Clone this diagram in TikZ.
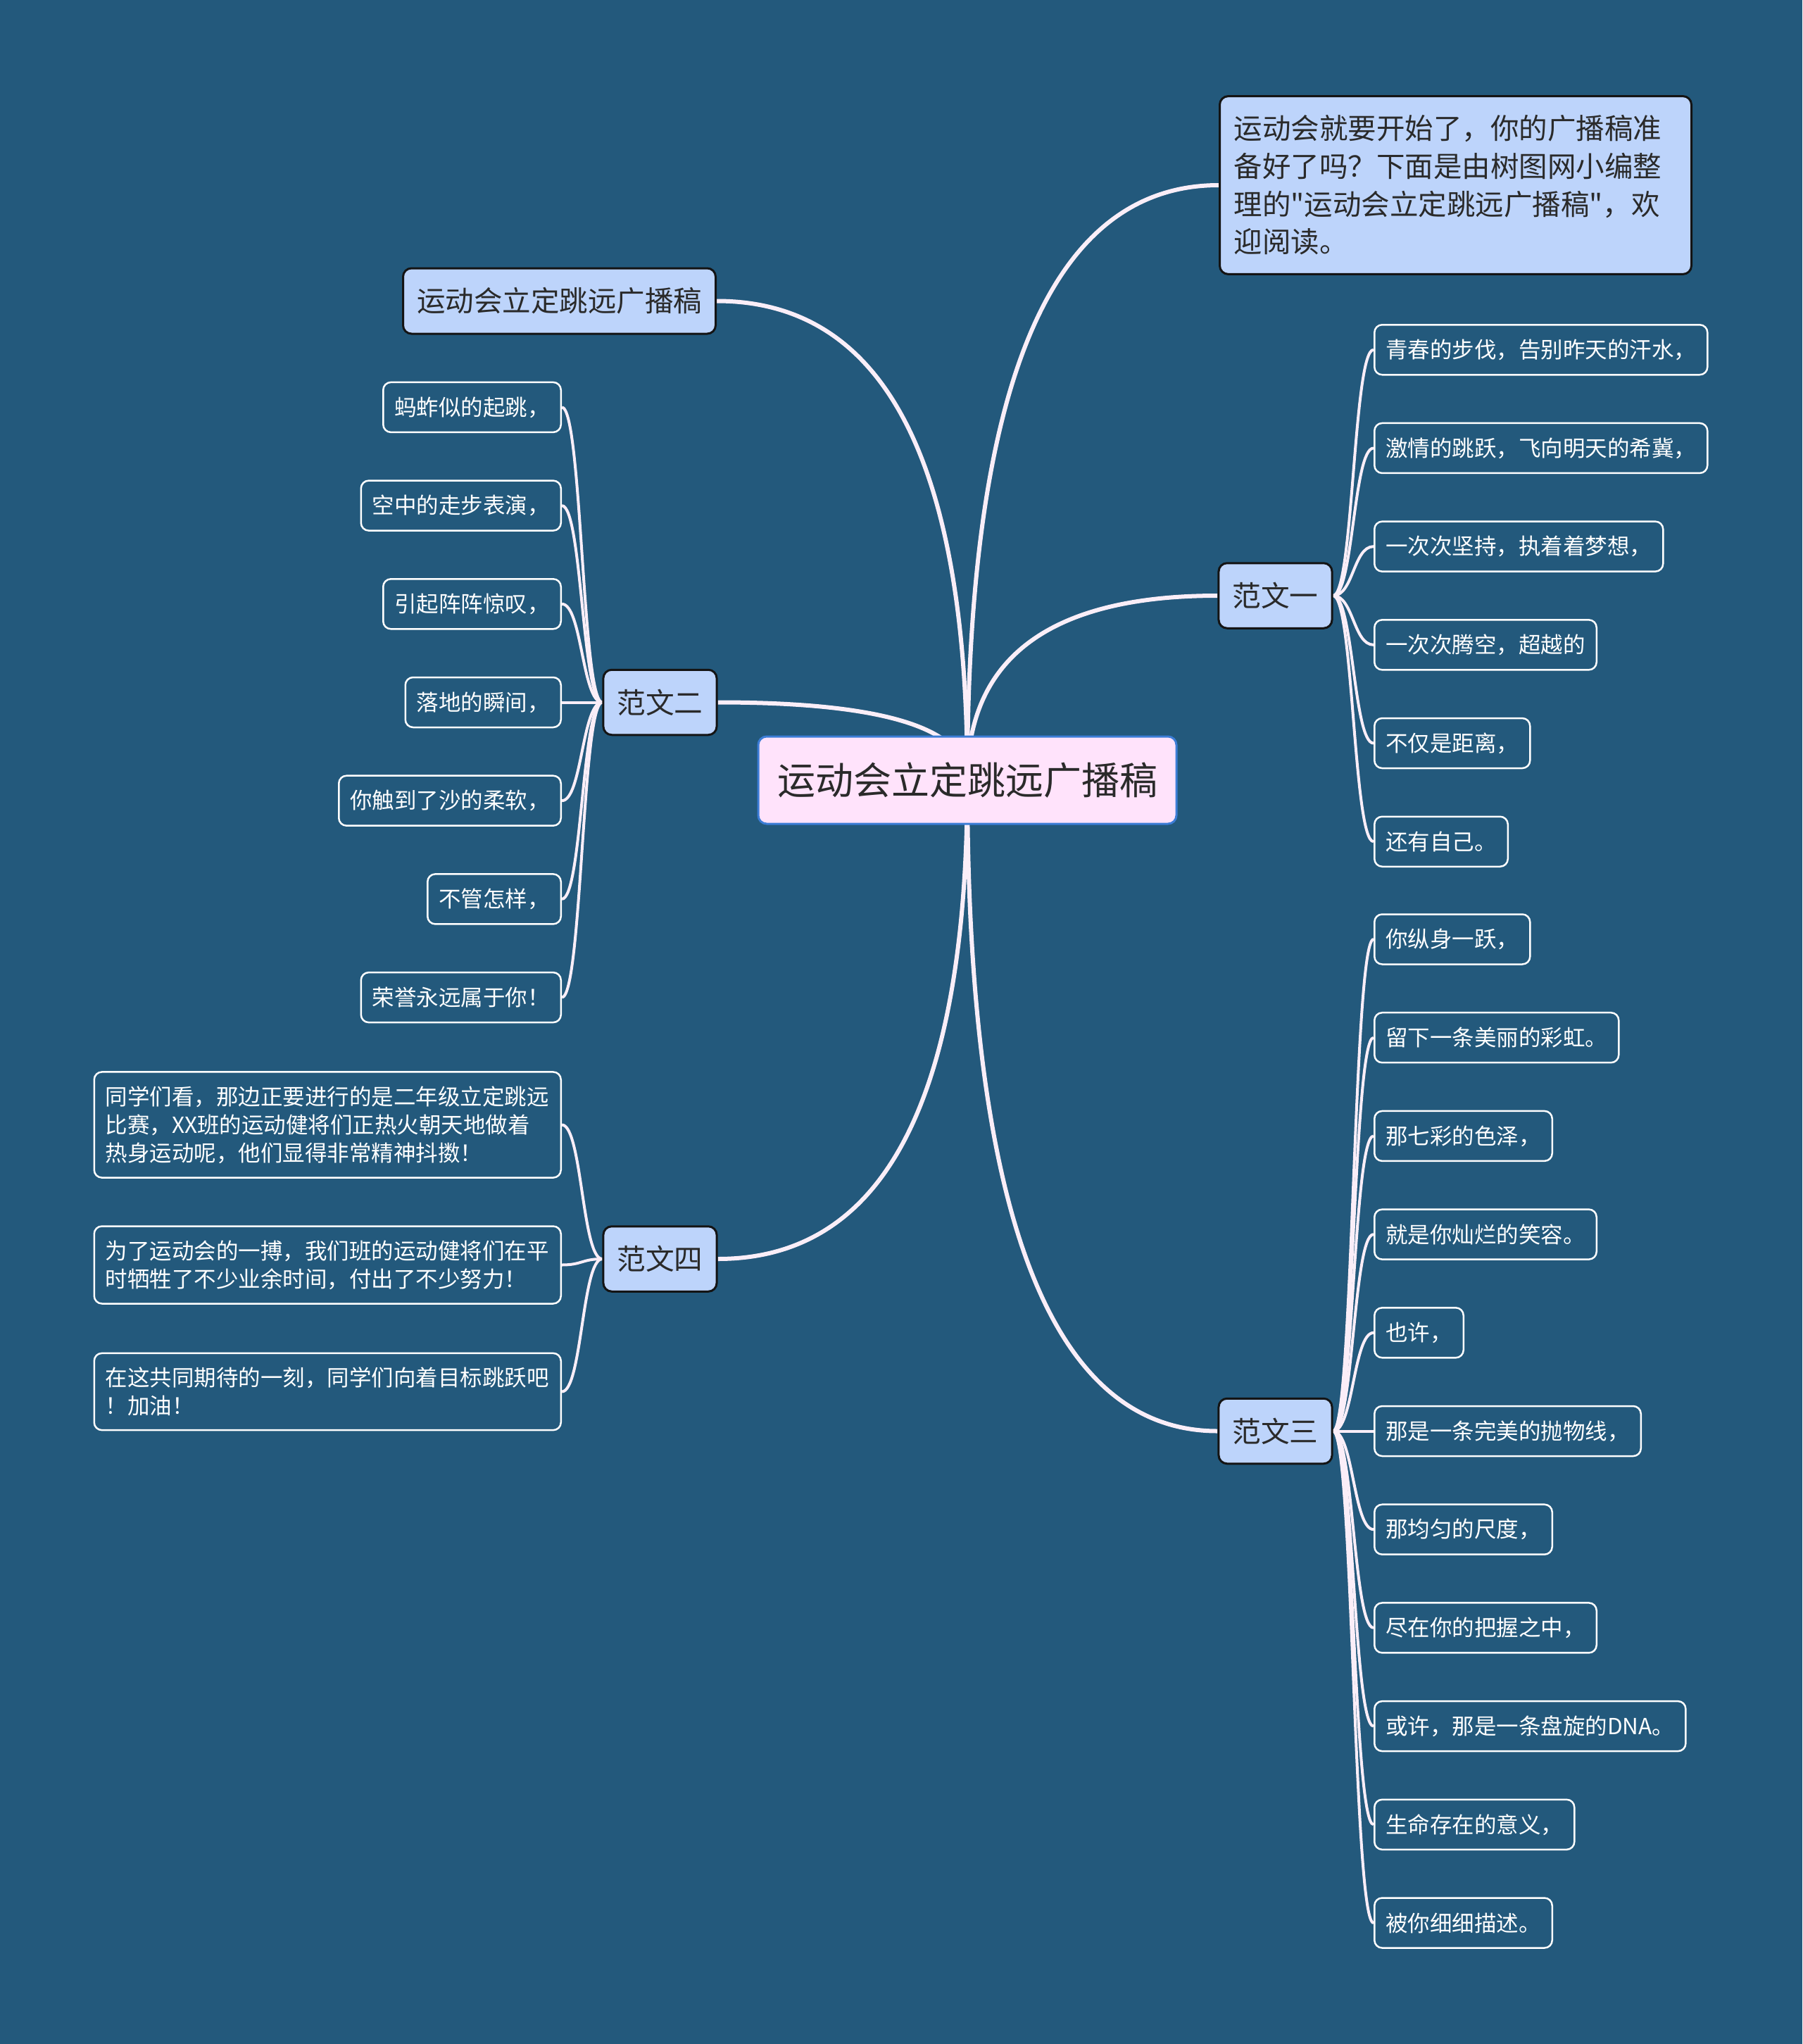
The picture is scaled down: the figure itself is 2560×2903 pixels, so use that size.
\documentclass[tikz,border=0pt]{standalone}
\usepackage{fontspec}
\setmainfont{Noto Sans CJK SC}[Ligatures=TeXOff]
\usetikzlibrary{calc}
\pgfdeclarelayer{bg}
\pgfsetlayers{bg,main}
\definecolor{bgc}{HTML}{23597C}
\definecolor{edgec}{HTML}{FAEEF8}
\definecolor{rootfill}{HTML}{FFE3FB}
\definecolor{rootline}{HTML}{3C7DD6}
\definecolor{boxfill}{HTML}{BDD4FB}
\definecolor{boxline}{HTML}{141414}
\definecolor{txt}{HTML}{2A2A2A}
\tikzset{
  rootbox/.style={draw=rootline, line width=3pt, fill=rootfill, rounded corners=12pt, text=txt,
    font=\fontsize{54}{64}\selectfont, inner xsep=27pt, inner ysep=0pt, minimum height=124pt, minimum width=594pt},
  topicbox/.style={draw=boxline, line width=3pt, fill=boxfill, rounded corners=12pt, text=txt, inner ysep=0pt},
  branchbox/.style={topicbox, font=\fontsize{40.7}{50}\selectfont, inner xsep=19.5pt, minimum height=92.5pt},
  titlebox/.style={topicbox, font=\fontsize{40.5}{50}\selectfont, inner xsep=19.5pt, minimum height=93pt, minimum width=444pt},
  introbox/.style={topicbox, font=\fontsize{40.5}{53.7}\selectfont, text width=630pt, align=left,
    inner xsep=20pt, inner ysep=27pt},
  leafbox/.style={draw=white, line width=2.5pt, rounded corners=11pt, text=white,
    font=\fontsize{31.5}{40}\selectfont, inner xsep=16pt, inner ysep=0pt, minimum height=71pt},
  longleaf/.style={leafbox, text width=631pt, align=left, inner ysep=20pt},
  mainedge/.style={draw=edgec, line width=6pt},
  leafedge/.style={draw=edgec, line width=4pt},
  vh/.style={to path={.. controls ($(\tikztostart)!0.6667!(\tikztostart|-\tikztotarget)$) and ($(\tikztotarget)!0.6667!(\tikztostart|-\tikztotarget)$) .. (\tikztotarget)}},
  hh/.style={to path={.. controls ($(\tikztostart)!0.5!(\tikztotarget|-\tikztostart)$) and ($(\tikztotarget)!0.5!(\tikztostart|-\tikztotarget)$) .. (\tikztotarget)}},
}
\begin{document}
\begin{tikzpicture}[x=1pt,y=-1pt]
\begin{pgfonlayer}{bg}
\fill[bgc] (0,0) rectangle (2560,2903);
\end{pgfonlayer}
\useasboundingbox (0,0) rectangle (2560,2903);

% central topic and main branches
\node[rootbox] (root) at (1374,1108) {运动会立定跳远广播稿};
\node[introbox, anchor=west] (intro) at (1731,263) {运动会就要开始了，你的广播稿准\\备好了吗？下面是由树图网小编整\\理的"运动会立定跳远广播稿"，欢\\迎阅读。};
\node[titlebox, anchor=east] (title) at (1018,427.5) {运动会立定跳远广播稿};
\node[branchbox] (f1) at (1811.5,846) {范文一};
\node[branchbox] (f2) at (937.5,997.5) {范文二};
\node[branchbox] (f4) at (937.5,1788) {范文四};
\node[branchbox] (f3) at (1811.5,2032.5) {范文三};

\begin{pgfonlayer}{bg}
\draw[mainedge] (root.center) to[vh] (intro.west);
\draw[mainedge] (root.center) to[vh] (title.east);
\draw[mainedge] (root.center) to[vh] (f1.west);
\draw[mainedge] (root.center) to[vh] (f2.east);
\draw[mainedge] (root.center) to[vh] (f4.east);
\draw[mainedge] (root.center) to[vh] (f3.west);
\end{pgfonlayer}

% 范文一 leaves
\foreach \t [count=\i] in {{青春的步伐，告别昨天的汗水，},{激情的跳跃，飞向明天的希冀，},{一次次坚持，执着着梦想，},{一次次腾空，超越的},{不仅是距离，},{还有自己。}}{
  \node[leafbox, anchor=west] (a\i) at (1951,{846+(\i-3.5)*139.7}) {\t};
  \begin{pgfonlayer}{bg}\draw[leafedge] (f1.east) to[hh] (a\i.west);\end{pgfonlayer}
}

% 范文二 leaves
\foreach \t [count=\i] in {{蚂蚱似的起跳，},{空中的走步表演，},{引起阵阵惊叹，},{落地的瞬间，},{你触到了沙的柔软，},{不管怎样，},{荣誉永远属于你！}}{
  \node[leafbox, anchor=east] (b\i) at (798,{997.5+(\i-4)*139.7}) {\t};
  \begin{pgfonlayer}{bg}\draw[leafedge] (f2.west) to[hh] (b\i.east);\end{pgfonlayer}
}

% 范文三 leaves
\foreach \t [count=\i] in {{你纵身一跃，},{留下一条美丽的彩虹。},{那七彩的色泽，},{就是你灿烂的笑容。},{也许，},{那是一条完美的抛物线，},{那均匀的尺度，},{尽在你的把握之中，},{或许，那是一条盘旋的DNA。},{生命存在的意义，},{被你细细描述。}}{
  \node[leafbox, anchor=west] (c\i) at (1951,{2032.5+(\i-6)*139.7}) {\t};
  \begin{pgfonlayer}{bg}\draw[leafedge] (f3.east) to[hh] (c\i.west);\end{pgfonlayer}
}

% 范文四 leaves
\node[longleaf, anchor=east] (d1) at (798,1597.5) {同学们看，那边正要进行的是二年级立定跳远\\比赛，XX班的运动健将们正热火朝天地做着\\热身运动呢，他们显得非常精神抖擞！};
\node[longleaf, anchor=east] (d2) at (798,1796.5) {为了运动会的一搏，我们班的运动健将们在平\\时牺牲了不少业余时间，付出了不少努力！};
\node[longleaf, anchor=east] (d3) at (798,1976.5) {在这共同期待的一刻，同学们向着目标跳跃吧\\！加油！};
\begin{pgfonlayer}{bg}
\draw[leafedge] (f4.west) to[hh] (d1.east);
\draw[leafedge] (f4.west) to[hh] (d2.east);
\draw[leafedge] (f4.west) to[hh] (d3.east);
\end{pgfonlayer}
\end{tikzpicture}
\end{document}
